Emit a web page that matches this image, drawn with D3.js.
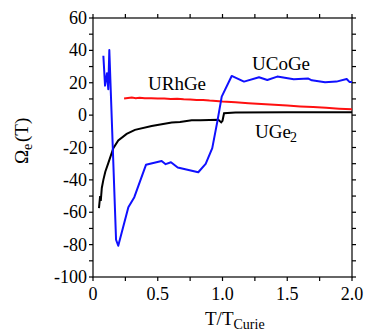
<!DOCTYPE html>
<html>
<head>
<meta charset="utf-8">
<script src="https://cdn.jsdelivr.net/npm/d3@7"></script>
</head>
<body style="margin:0">
<script>
// values: [T/Tcurie, Omega_e (T)]
var ucoge = [
  [0.080, 36.7], [0.093, 18.2], [0.108, 25.9], [0.118, 16.0], [0.126, 40.2],
  [0.178, -77.0], [0.195, -80.7], [0.273, -56.9], [0.319, -50.7], [0.409, -30.7],
  [0.530, -28.3], [0.561, -30.3], [0.602, -29.1], [0.654, -32.4], [0.813, -35.3],
  [0.870, -30.1], [0.921, -20.4], [0.960, -4.0], [0.994, 11.4], [1.071, 24.2],
  [1.166, 20.7], [1.282, 23.4], [1.346, 21.7], [1.423, 23.8], [1.550, 22.2],
  [1.663, 22.6], [1.690, 21.5], [1.792, 20.3], [1.880, 20.7], [1.959, 22.3],
  [1.980, 20.5], [2.000, 20.4]
];
var urhge = [
  [0.24, 10.3], [0.27, 10.6], [0.30, 10.9], [0.33, 10.5], [0.36, 10.8],
  [0.40, 10.5], [0.45, 10.4], [0.50, 10.2], [0.55, 10.3], [0.60, 10.0],
  [0.65, 10.1], [0.70, 9.8], [0.75, 9.7], [0.80, 9.4], [0.85, 9.3],
  [0.90, 9.0], [0.95, 8.8], [1.00, 8.4], [1.10, 7.9], [1.20, 7.4],
  [1.30, 6.9], [1.40, 6.4], [1.50, 5.9], [1.60, 5.4], [1.70, 5.0],
  [1.80, 4.5], [1.90, 4.0], [2.00, 3.6]
];
var uge2 = [
  [0.046, -57.5], [0.055, -50.0], [0.060, -53.0], [0.068, -45.0], [0.080, -40.0],
  [0.095, -35.0], [0.118, -29.7], [0.157, -20.4], [0.195, -15.7], [0.260, -11.6],
  [0.324, -9.1], [0.453, -6.7], [0.608, -4.6], [0.672, -4.2], [0.762, -3.2],
  [0.830, -3.1], [0.968, -2.9], [0.990, -4.5], [1.000, -3.5], [1.012, 1.2],
  [1.100, 1.6], [1.500, 1.7], [2.000, 1.8]
];
var xTicks = [0, 0.25, 0.5, 0.75, 1.0, 1.25, 1.5, 1.75, 2.0];
var xLabels = [0, 0.5, 1.0, 1.5, 2.0];
var yTicks = d3.range(-100, 61, 10);
var yLabels = [-100, -80, -60, -40, -20, 0, 20, 40, 60];

var W = 367, H = 334;
var m = { left: 93, right: 15, top: 18, bottom: 57 };

var svg = d3.select('body').append('svg')
    .attr('width', W)
    .attr('height', H);

var x = d3.scaleLinear().domain([0, 2]).range([m.left, W - m.right]);
var y = d3.scaleLinear().domain([-100, 60]).range([H - m.bottom, m.top]);

// frame with outward ticks on all four sides
var frame = svg.append('g').attr('stroke', '#000').attr('stroke-width', 1.2);
frame.append('rect')
    .attr('x', m.left).attr('y', m.top)
    .attr('width', W - m.left - m.right).attr('height', H - m.top - m.bottom)
    .attr('fill', 'none');
xTicks.forEach(function(t) {
    frame.append('line').attr('x1', x(t)).attr('x2', x(t)).attr('y1', m.top).attr('y2', m.top - 4);
    frame.append('line').attr('x1', x(t)).attr('x2', x(t)).attr('y1', H - m.bottom).attr('y2', H - m.bottom + 4);
});
yTicks.forEach(function(t) {
    frame.append('line').attr('y1', y(t)).attr('y2', y(t)).attr('x1', m.left).attr('x2', m.left - 4);
    frame.append('line').attr('y1', y(t)).attr('y2', y(t)).attr('x1', W - m.right).attr('x2', W - m.right + 4);
});

function label(size) {
    return svg.append('text')
        .attr('font-family', 'Liberation Serif')
        .attr('font-size', size)
        .attr('fill', '#000');
}

yLabels.forEach(function(d) {
    label(18)
        .attr('x', m.left - 6)
        .attr('y', y(d) + 6)
        .attr('text-anchor', 'end')
        .text(String(d));
});

xLabels.forEach(function(d) {
    label(18)
        .attr('x', x(d))
        .attr('y', H - m.bottom + 23)
        .attr('text-anchor', 'middle')
        .text(d === 0 ? '0' : d3.format('.1f')(d));
});

// axis titles
var xt = label(19).attr('x', 205).attr('y', 325);
xt.append('tspan').text('T/T');
xt.append('tspan').attr('dy', 4).attr('font-size', 14).text('Curie');

// y title as separate pieces, rotated
var yg = svg.append('g').attr('transform', 'translate(28,164) rotate(-90)');
yg.append('text').attr('font-family', 'Liberation Serif').attr('font-size', 19)
    .attr('x', 0).attr('y', 0).text('\u03A9');
yg.append('text').attr('font-family', 'Liberation Serif').attr('font-size', 14)
    .attr('x', 14).attr('y', 4).text('e');
yg.append('text').attr('font-family', 'Liberation Serif').attr('font-size', 19)
    .attr('x', 22).attr('y', 0).text('(T)');

// curves
var line = d3.line()
    .x(function(d) { return x(d[0]); })
    .y(function(d) { return y(d[1]); });

svg.append('path').datum(urhge)
    .attr('d', line).attr('fill', 'none')
    .attr('stroke', '#ff1010').attr('stroke-width', 2);
svg.append('path').datum(uge2)
    .attr('d', line).attr('fill', 'none')
    .attr('stroke', '#000').attr('stroke-width', 2);
svg.append('path').datum(ucoge)
    .attr('d', line).attr('fill', 'none')
    .attr('stroke', '#1010ff').attr('stroke-width', 2)
    .attr('stroke-linejoin', 'round');

// curve labels
label(19).attr('x', 148).attr('y', 90).text('URhGe');
label(19).attr('x', 252).attr('y', 70).text('UCoGe');
label(19).attr('x', 255).attr('y', 138).text('UGe');
label(14).attr('x', 290).attr('y', 142).text('2');
</script>
</body>
</html>
